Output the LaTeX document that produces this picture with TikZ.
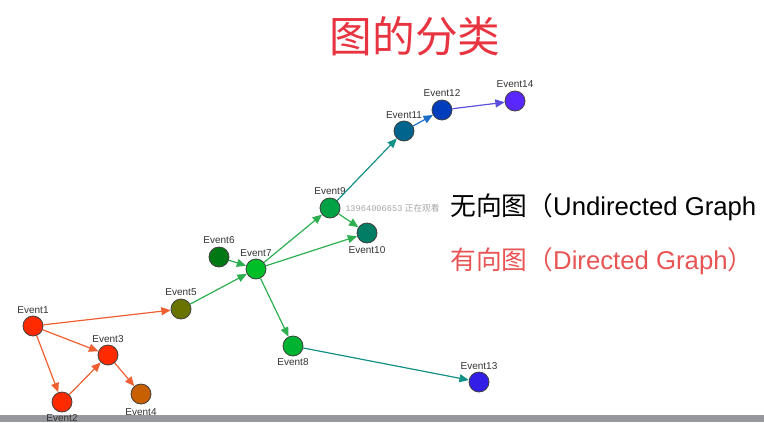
\documentclass[tikz,border=0pt]{standalone}
\usepackage{fontspec}
\setmainfont{Liberation Sans}
\newfontfamily\cjk{Noto Sans CJK SC}
\newfontfamily\lbfont{Liberation Sans}
\newfontfamily\monofont{Liberation Mono}
\usetikzlibrary{arrows.meta}

\definecolor{evred}{RGB}{255,42,0}
\definecolor{evbrown}{RGB}{200,95,0}
\definecolor{evolive}{RGB}{105,115,0}
\definecolor{evdkgreen}{RGB}{0,120,20}
\definecolor{evgreen}{RGB}{0,190,40}
\definecolor{evgreenb}{RGB}{0,180,50}
\definecolor{evmidgreen}{RGB}{0,162,68}
\definecolor{evteal}{RGB}{0,125,100}
\definecolor{evpetrol}{RGB}{0,100,140}
\definecolor{evblue}{RGB}{0,62,190}
\definecolor{evviolet}{RGB}{50,30,230}
\definecolor{evpurple}{RGB}{90,40,255}
\definecolor{arred}{RGB}{240,95,50}
\definecolor{argreen}{RGB}{45,175,80}
\definecolor{arteal}{RGB}{20,145,135}
\definecolor{arblue}{RGB}{30,110,200}
\definecolor{arviolet}{RGB}{90,80,220}
\definecolor{titlered}{RGB}{232,52,64}
\definecolor{subred}{RGB}{232,84,84}
\definecolor{barcol}{RGB}{150,152,158}

\tikzset{
  ev/.style={circle, draw=black!75, line width=0.6pt, minimum size=15pt, inner sep=0pt},
  evlbl/.style={font=\lbfont\fontsize{7.5}{8}\selectfont, text=black!80, inner sep=0.75pt},
  arr/.style={-{Triangle[length=7pt,width=6pt]}, line width=0.9pt},
}

\begin{document}
\begin{tikzpicture}[x=0.75pt,y=0.75pt,yscale=-1,xscale=1]
\useasboundingbox (0,0) rectangle (764,422);
\clip (0,0) rectangle (764,422);

% bottom bar
\fill [barcol] (0,415) rectangle (764,422);

% Event nodes
\node (e1) at (33,326) [ev, fill=evred] {};
\node (e2) at (62,402) [ev, fill=evred] {};
\node (e3) at (108,355) [ev, fill=evred] {};
\node (e4) at (141,394) [ev, fill=evbrown] {};
\node (e5) at (181,309) [ev, fill=evolive] {};
\node (e6) at (219,257) [ev, fill=evdkgreen] {};
\node (e7) at (256,269) [ev, fill=evgreen] {};
\node (e8) at (293,346) [ev, fill=evgreenb] {};
\node (e9) at (330,208) [ev, fill=evmidgreen] {};
\node (e10) at (367,233) [ev, fill=evteal] {};
\node (e11) at (404,131) [ev, fill=evpetrol] {};
\node (e12) at (442,110) [ev, fill=evblue] {};
\node (e13) at (479,382) [ev, fill=evviolet] {};
\node (e14) at (515,101) [ev, fill=evpurple] {};

% Event labels
\node (l1) at (33,310) [evlbl] {Event1};
\node (l2) at (62,418) [evlbl] {Event2};
\node (l3) at (108,339) [evlbl] {Event3};
\node (l4) at (141,412) [evlbl] {Event4};
\node (l5) at (181,292) [evlbl] {Event5};
\node (l6) at (219,240) [evlbl] {Event6};
\node (l7) at (256,253) [evlbl] {Event7};
\node (l8) at (293,362) [evlbl] {Event8};
\node (l9) at (330,191) [evlbl] {Event9};
\node (l10) at (367,250) [evlbl] {Event10};
\node (l11) at (404,115) [evlbl] {Event11};
\node (l12) at (442,93) [evlbl] {Event12};
\node (l13) at (479,366) [evlbl] {Event13};
\node (l14) at (515,84) [evlbl] {Event14};

% Arrows
\draw [arr, color=arred] (e1) -- (e5);
\draw [arr, color=arred] (e1) -- (e3);
\draw [arr, color=arred] (e1) -- (e2);
\draw [arr, color=arred] (e2) -- (e3);
\draw [arr, color=arred] (e3) -- (e4);
\draw [arr, color=argreen] (e5) -- (e7);
\draw [arr, color=argreen] (e6) -- (e7);
\draw [arr, color=argreen] (e7) -- (e9);
\draw [arr, color=argreen] (e7) -- (e10);
\draw [arr, color=argreen] (e7) -- (e8);
\draw [arr, color=argreen] (e9) -- (e10);
\draw [arr, color=arteal] (e9) -- (e11);
\draw [arr, color=arblue] (e11) -- (e12);
\draw [arr, color=arviolet] (e12) -- (e14);
\draw [arr, color=arteal] (e8) -- (e13);

% Title
\node (title) at (415,36) [text=titlered, font=\cjk\fontsize{32}{36}\selectfont] {图的分类};
% Text Node
\node (undir) at (450,207) [anchor=west, inner sep=0pt, font=\fontsize{19.3}{23}\selectfont] {{\cjk 无向图（}Undirected Graph};
% Text Node
\node (dir) at (450,261) [anchor=west, inner sep=0pt, text=subred, font=\fontsize{19.3}{23}\selectfont] {{\cjk 有向图（}Directed Graph{\cjk ）}};
% Text Node
\node (viewer) at (345,208) [anchor=west, inner sep=0pt, text=black!35, font=\fontsize{6.5}{7}\selectfont] {{\monofont 13964006653} {\cjk 正在观看}};

\end{tikzpicture}
\end{document}
